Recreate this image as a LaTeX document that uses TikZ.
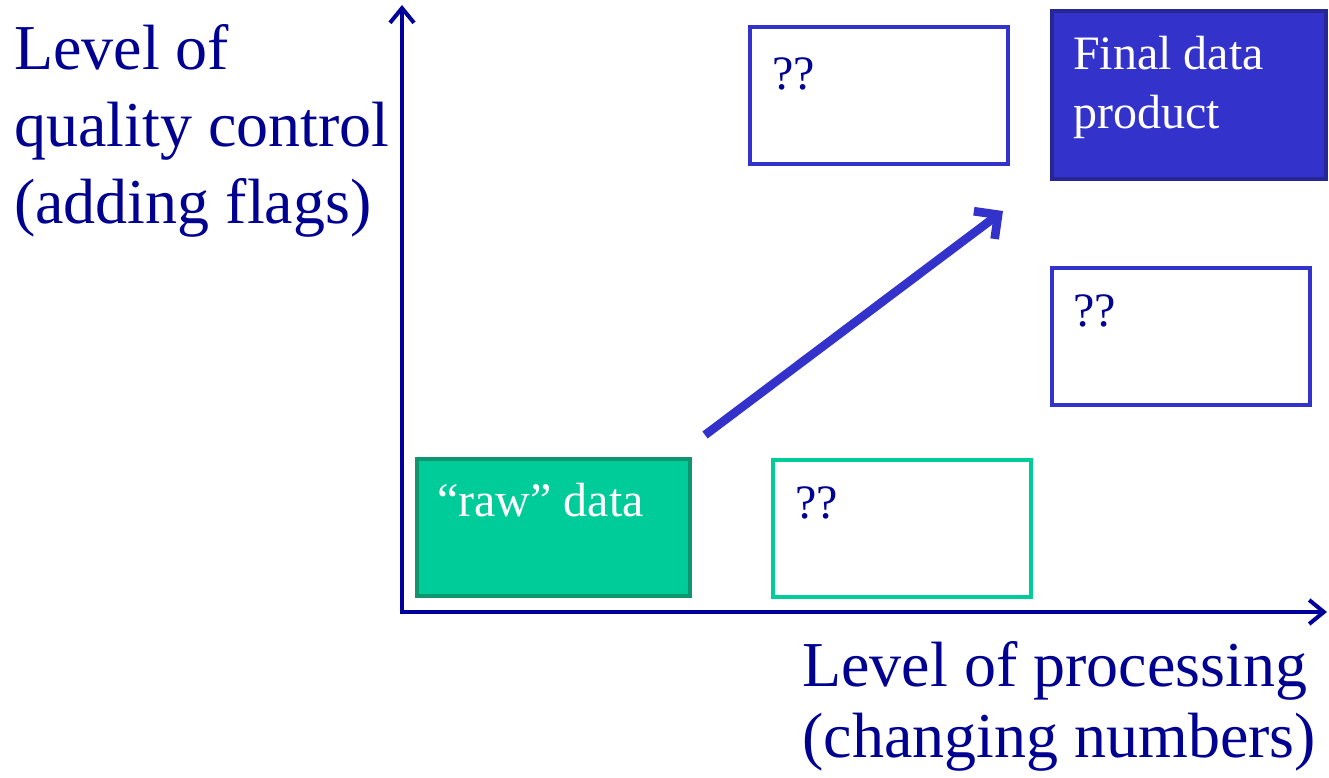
\documentclass[tikz,border=0pt]{standalone}
\usepackage{fontspec}
\setmainfont{Liberation Serif}
\usetikzlibrary{arrows.meta,positioning}

\definecolor{axisblue}{RGB}{0,0,155}
\definecolor{labelblue}{RGB}{0,0,145}
\definecolor{boxblue}{RGB}{51,51,204}
\definecolor{boxblueedge}{RGB}{38,38,150}
\definecolor{rawgreen}{RGB}{0,204,153}
\definecolor{rawedge}{RGB}{16,150,110}

\begin{document}
\begin{tikzpicture}[x=0.75pt,y=0.75pt,yscale=-1,xscale=1,
  axisline/.style={draw=axisblue,line width=3pt},
  axislabel/.style={anchor=north west,inner sep=0pt,align=left,text=labelblue},
  stagebox/.style={rectangle,minimum width=193.5pt,minimum height=102.75pt,line width=3pt},
  boxtext/.style={anchor=north west,inner sep=0pt,align=left,font=\fontsize{36}{44}\selectfont},
  progress/.style={draw=boxblue,line width=6.5pt,-{Straight Barb[length=13pt,width=26pt]}}]
\useasboundingbox (0,0) rectangle (1329,778);

%Axes
\coordinate (ytop) at (402,5);
\coordinate (origin) at (402,612);
\coordinate (xend) at (1327,612);
\draw [axisline,{Straight Barb[length=11pt,width=18pt]}-{Straight Barb[length=11pt,width=18pt]}] (ytop) -- (origin) -- (xend);

% Text Node
\node [axislabel,font=\fontsize{48}{57.75}\selectfont] (qclabel) at (14,24) {Level of\\quality control\\(adding flags)};
% Text Node
\node [axislabel,font=\fontsize{48}{53.25}\selectfont] (proclabel) at (802,641) {Level of processing\\(changing numbers)};

%Shape: Rectangle
\node [stagebox,fill=rawgreen,draw=rawedge,minimum width=204.75pt] (raw) at (553.5,527.5) {};
%Shape: Rectangle
\node [stagebox,draw=rawgreen] (procq) at (902,528.5) {};
%Shape: Rectangle
\node [stagebox,draw=boxblue] (qcq) at (879,95) {};
%Shape: Rectangle
\node [stagebox,draw=boxblue] (bothq) at (1181,336.5) {};
%Shape: Rectangle
\node [stagebox,fill=boxblue,draw=boxblueedge,minimum width=205.5pt,minimum height=126pt] (final) at (1189,95) {};

% Text Node
\node [boxtext,text=white] (rawtext) at (437,483) {“raw” data};
% Text Node
\node [boxtext,text=labelblue] (procqtext) at (795,486) {??};
% Text Node
\node [boxtext,text=labelblue] (qcqtext) at (772,57) {??};
% Text Node
\node [boxtext,text=labelblue] (bothqtext) at (1073,294) {??};
% Text Node
\node [boxtext,text=white] (finaltext) at (1073,36) {Final data\\product};

%Straight Lines
\coordinate (arrstart) at (705,435);
\coordinate (arrend) at (1003,211);
\draw [progress] (arrstart) -- (arrend);

\end{tikzpicture}
\end{document}
